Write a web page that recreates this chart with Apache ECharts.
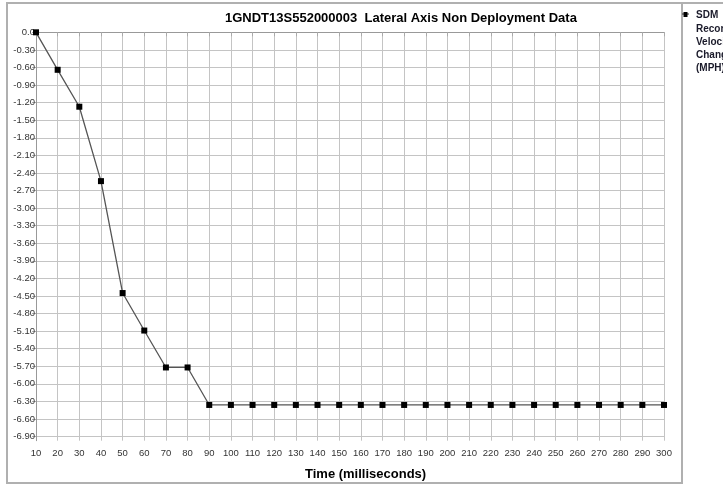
<!DOCTYPE html>
<html><head><meta charset="utf-8">
<script src="https://cdn.jsdelivr.net/npm/echarts@6/dist/echarts.min.js"></script>
<style>html,body{margin:0;padding:0;background:#fff}#c{width:723px;height:485px}</style>
</head><body><div id="c"></div>
<script>
const timesMs = [10,20,30,40,50,60,70,80,90,100,110,120,130,140,150,160,170,180,190,200,210,220,230,240,250,260,270,280,290,300];
const velocityChange = [0,-0.64,-1.27,-2.54,-4.45,-5.09,-5.72,-5.72,-6.36,-6.36,-6.36,-6.36,-6.36,-6.36,-6.36,-6.36,-6.36,-6.36,-6.36,-6.36,-6.36,-6.36,-6.36,-6.36,-6.36,-6.36,-6.36,-6.36,-6.36,-6.36];
const yTicks = [0,-0.3,-0.6,-0.9,-1.2,-1.5,-1.8,-2.1,-2.4,-2.7,-3.0,-3.3,-3.6,-3.9,-4.2,-4.5,-4.8,-5.1,-5.4,-5.7,-6.0,-6.3,-6.6,-6.9];
const legendLines = ['SDM','Recorded','Velocity','Change','(MPH)'];
const titleText = '1GNDT13S552000003  Lateral Axis Non Deployment Data';
const xName = 'Time (milliseconds)';

const chart = echarts.init(document.getElementById('c'), null, {renderer:'canvas'});
const font = 'Arial, "Liberation Sans", sans-serif';
chart.setOption({
  animation:false,
  backgroundColor:'#fff',
  grid:{left:36,right:59,top:32.3,bottom:44.3,containLabel:false},
  xAxis:{type:'value',min:10,max:300,interval:10,
    axisLine:{lineStyle:{color:'#999',width:1}},
    axisTick:{show:true,length:4,lineStyle:{color:'#aaa'}},
    axisLabel:{fontFamily:font,fontSize:9.5,color:'#333',margin:8},
    splitLine:{show:true,lineStyle:{color:'#c4c4c4',width:1}}
  },
  yAxis:{type:'value',min:-6.97,max:0,
    axisLine:{show:true,lineStyle:{color:'#999',width:1}},
    axisTick:{show:true,length:4,customValues:yTicks,lineStyle:{color:'#aaa'}},
    axisLabel:{fontFamily:font,fontSize:9.5,color:'#333',margin:1,customValues:yTicks,
      formatter:v=> Math.abs(v)<1e-9 ? '0.0' : v.toFixed(2)},
    splitLine:{show:true,lineStyle:{color:'#c4c4c4',width:1}}
  },
  series:[{type:'line',data:timesMs.map((t,i)=>[t,velocityChange[i]]),
    symbol:'rect',symbolSize:6,
    lineStyle:{color:'#555',width:1.3},
    itemStyle:{color:'#000'},z:5}],
  graphic:[
    {type:'rect',shape:{x:7,y:3,width:675,height:480},style:{fill:'none',stroke:'#b0b0b0',lineWidth:2},silent:true},
    {type:'line',shape:{x1:682,y1:3,x2:723,y2:3},style:{stroke:'#b0b0b0',lineWidth:2}},
    {type:'text',left:225,top:12,style:{text:titleText,font:'bold 13px '+font,fill:'#000'}},
    {type:'text',left:305,top:468,style:{text:xName,font:'bold 13px '+font,fill:'#000'}},
    {type:'line',shape:{x1:682,y1:14,x2:689,y2:14},style:{stroke:'#333',lineWidth:1}},
    {type:'rect',shape:{x:683.5,y:12,width:4,height:5},style:{fill:'#000'}},
    {type:'text',left:696,top:9,style:{text:legendLines.join('\n'),font:'bold 10px '+font,fill:'#1a1a2a',lineHeight:13.2}}
  ]
});
</script></body></html>
